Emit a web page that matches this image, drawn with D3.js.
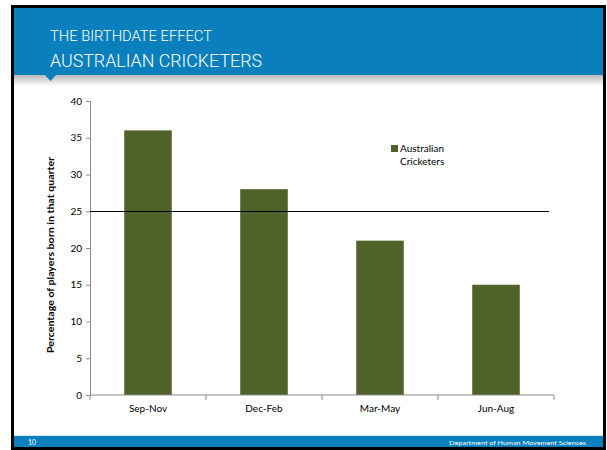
<!DOCTYPE html>
<html>
<head>
<meta charset="utf-8">
<script src="https://cdn.jsdelivr.net/npm/d3@7"></script>
<style>
  html, body { margin: 0; padding: 0; background: #fff; }
  svg { display: block; }
</style>
</head>
<body>
<svg id="chart" width="607" height="450"></svg>
<script>
// Share of players born in each quarter of the year
const quarters = ["Sep-Nov", "Dec-Feb", "Mar-May", "Jun-Aug"];
const cricketers = [36, 28, 21, 15];
const yTicks = [0, 5, 10, 15, 20, 25, 30, 35, 40];
const expectedShare = 25;
const seriesName = ["Australian", "Cricketers"];

(function () {
const svg = d3.select("#chart");
const blue = "#0a7fbd";
const olive = "#4f6228";
const font = "Lato, 'Open Sans', sans-serif";

// Slide frame
svg.append("rect").attr("x", 0).attr("y", 0).attr("width", 607).attr("height", 450).attr("fill", "#fff");
const defs = svg.append("defs");
const grad = defs.append("linearGradient").attr("id", "hdrShadow").attr("x1", 0).attr("y1", 0).attr("x2", 0).attr("y2", 1);
grad.append("stop").attr("offset", "0%").attr("stop-color", "#b8b8b8");
grad.append("stop").attr("offset", "100%").attr("stop-color", "#ffffff");
svg.append("rect").attr("x", 14).attr("y", 75).attr("width", 589).attr("height", 11).attr("fill", "url(#hdrShadow)");

// Header band
svg.append("rect").attr("x", 14).attr("y", 8).attr("width", 589).attr("height", 67).attr("fill", blue);
svg.append("path").attr("d", "M45,75 L56,75 L50.5,81 Z").attr("fill", blue);
svg.append("text").attr("x", 50).attr("y", 41).attr("fill", "#fff")
  .attr("font-family", "Roboto, sans-serif").attr("font-weight", 300).attr("font-size", 14)
  .attr("textLength", 162).attr("lengthAdjust", "spacingAndGlyphs")
  .text("THE BIRTHDATE EFFECT");
svg.append("text").attr("x", 50).attr("y", 67).attr("fill", "#fff")
  .attr("font-family", "Roboto, sans-serif").attr("font-weight", 300).attr("font-size", 17.5)
  .attr("textLength", 212).attr("lengthAdjust", "spacingAndGlyphs")
  .text("AUSTRALIAN CRICKETERS");

// Footer band
svg.append("rect").attr("x", 14).attr("y", 436).attr("width", 589).attr("height", 12).attr("fill", blue);
svg.append("line").attr("x1", 14).attr("x2", 603).attr("y1", 435.5).attr("y2", 435.5).attr("stroke", "#d8e6ee");
svg.append("text").attr("x", 28).attr("y", 445).attr("fill", "#fff")
  .attr("font-family", font).attr("font-size", 7).text("10");
svg.append("text").attr("x", 586).attr("y", 445).attr("fill", "#fff").attr("text-anchor", "end")
  .attr("font-family", font).attr("font-size", 6.5)
  .attr("textLength", 137).attr("lengthAdjust", "spacingAndGlyphs")
  .text("Department of Human Movement Sciences");

// Outer border
svg.append("rect").attr("x", 12.5).attr("y", 6.5).attr("width", 592).attr("height", 442)
  .attr("fill", "none").attr("stroke", "#000").attr("stroke-width", 3);

// Plot area
const plotLeft = 90, plotRight = 554, plotTop = 101, plotBottom = 395;
const x = d3.scaleBand().domain(quarters).range([plotLeft, plotRight]).padding(0);
const y = d3.scaleLinear().domain([0, 40]).range([plotBottom, plotTop]);
const barW = x.bandwidth() * 0.41;

svg.append("g").selectAll("rect").data(quarters).join("rect")
  .attr("x", (d) => x(d) + (x.bandwidth() - barW) / 2)
  .attr("y", (d, i) => y(cricketers[i]))
  .attr("width", barW)
  .attr("height", (d, i) => y(0) - y(cricketers[i]))
  .attr("fill", olive);

// Y axis
const yAxis = svg.append("g").attr("transform", `translate(${plotLeft},0)`)
  .call(d3.axisLeft(y).tickValues(yTicks).tickSize(4).tickPadding(4));
yAxis.select(".domain").attr("stroke", "#8c8c8c");
yAxis.selectAll(".tick line").attr("stroke", "#8c8c8c");
yAxis.selectAll(".tick text").attr("font-family", font).attr("font-size", 10).attr("fill", "#000");

// X axis with ticks at category boundaries
const xAxisG = svg.append("g").attr("transform", `translate(0,${plotBottom})`);
xAxisG.append("line").attr("x1", plotLeft).attr("x2", plotRight).attr("stroke", "#8c8c8c");
const bounds = quarters.map((d) => x(d)).concat([x(quarters[quarters.length - 1]) + x.bandwidth()]);
xAxisG.selectAll("line.bound").data(bounds).join("line").attr("class", "bound")
  .attr("x1", (d) => d).attr("x2", (d) => d).attr("y1", 0).attr("y2", 5).attr("stroke", "#8c8c8c");
xAxisG.selectAll("text").data(quarters).join("text")
  .attr("x", (d) => x(d) + x.bandwidth() / 2).attr("y", 17)
  .attr("text-anchor", "middle").attr("font-family", font).attr("font-size", 10).attr("fill", "#000")
  .text((d) => d);

// Reference line at an even 25% share
svg.append("line").attr("x1", plotLeft).attr("x2", 549)
  .attr("y1", Math.round(y(expectedShare)) + 0.5).attr("y2", Math.round(y(expectedShare)) + 0.5)
  .attr("stroke", "#000").attr("stroke-width", 1);

// Y axis title
svg.append("text").attr("transform", "translate(54,255) rotate(-90)")
  .attr("text-anchor", "middle").attr("font-family", font).attr("font-weight", 700)
  .attr("font-size", 10).attr("fill", "#000")
  .attr("textLength", 196).attr("lengthAdjust", "spacingAndGlyphs")
  .text("Percentage of players born in that quarter");

// Legend
svg.append("rect").attr("x", 391).attr("y", 145).attr("width", 7).attr("height", 7).attr("fill", olive);
svg.append("text").attr("x", 400).attr("y", 152).attr("font-family", font).attr("font-size", 10).attr("fill", "#000").text(seriesName[0]);
svg.append("text").attr("x", 400).attr("y", 165).attr("font-family", font).attr("font-size", 10).attr("fill", "#000").text(seriesName[1]);
})();
</script>
</body>
</html>
